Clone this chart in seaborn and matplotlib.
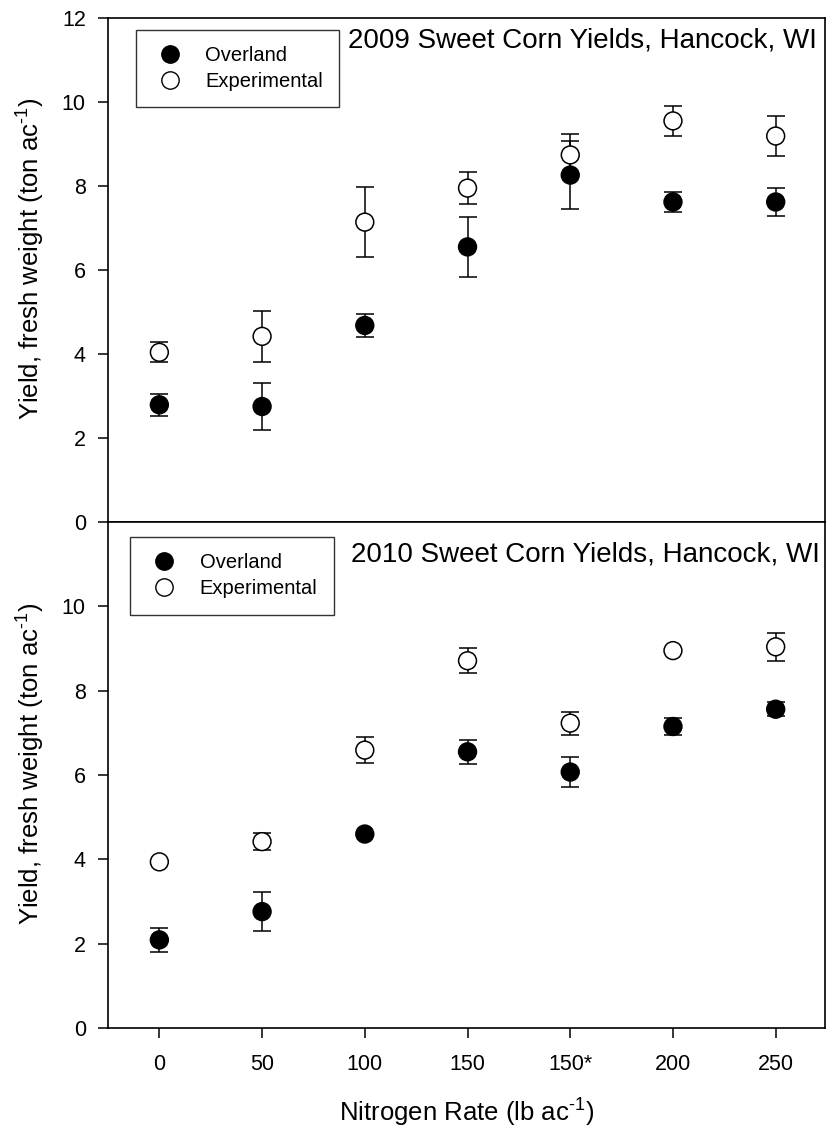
import matplotlib
matplotlib.use('Agg')
import matplotlib.pyplot as plt
import seaborn as sns
import numpy as np
import pandas as pd
from matplotlib.lines import Line2D

sns.set_style('ticks')
plt.rcParams['font.family'] = ['Liberation Sans', 'DejaVu Sans']
plt.rcParams['mathtext.fontset'] = 'custom'
plt.rcParams['mathtext.rm'] = 'Liberation Sans'
plt.rcParams['text.color'] = 'black'
plt.rcParams['axes.labelcolor'] = 'black'
plt.rcParams['xtick.color'] = 'black'
plt.rcParams['ytick.color'] = 'black'

# nitrogen rates (categories on x)
rates = ['0', '50', '100', '150', '150*', '200', '250']

# 2009 yields (ton/ac) and error bars
over_2009 = [2.79, 2.75, 4.68, 6.55, 8.26, 7.62, 7.62]
over_2009_err = [0.26, 0.55, 0.28, 0.72, 0.80, 0.24, 0.34]
exp_2009 = [4.04, 4.42, 7.14, 7.95, 8.74, 9.55, 9.19]
exp_2009_err = [0.24, 0.60, 0.83, 0.38, 0.50, 0.36, 0.47]

# 2010 yields (ton/ac) and error bars
over_2010 = [2.09, 2.76, 4.60, 6.55, 6.07, 7.15, 7.56]
over_2010_err = [0.28, 0.47, 0.05, 0.28, 0.35, 0.21, 0.16]
exp_2010 = [3.94, 4.42, 6.59, 8.71, 7.23, 8.95, 9.04]
exp_2010_err = [0.05, 0.21, 0.30, 0.30, 0.27, 0.05, 0.33]

titles = ['2009 Sweet Corn Yields, Hancock, WI', '2010 Sweet Corn Yields, Hancock, WI']
ylab = 'Yield, fresh weight (ton ac$^{\\text{-}1}$)'
xlab = 'Nitrogen Rate (lb ac$^{\\text{-}1}$)'

xpos = np.arange(len(rates))

def make_df(over, over_err, exp, exp_err):
    return pd.DataFrame({
        'x': np.concatenate([xpos, xpos]),
        'y': over + exp,
        'err': over_err + exp_err,
        'trt': ['Overland'] * len(rates) + ['Experimental'] * len(rates),
    })

dfs = [make_df(over_2009, over_2009_err, exp_2009, exp_2009_err),
       make_df(over_2010, over_2010_err, exp_2010, exp_2010_err)]

fig = plt.figure(figsize=(8.27, 11.28), dpi=100)
L, R = 108 / 827, 825 / 827
ax1 = fig.add_axes([L, 1 - 522 / 1128, R - L, (522 - 18) / 1128])
ax2 = fig.add_axes([L, 1 - 1028 / 1128, R - L, (1028 - 522) / 1128])

pal = {'Overland': 'black', 'Experimental': 'white'}
leg_pos = [(0.039, 0.977), (0.031, 0.971)]
txt_pos = [(0.335, 0.981), (0.339, 0.961)]

for i, (ax, df) in enumerate(zip([ax1, ax2], dfs)):
    ax.errorbar(df['x'], df['y'], yerr=df['err'], fmt='none', ecolor='black',
                elinewidth=1.1, capsize=6.5, capthick=1.1, zorder=2)
    sns.scatterplot(data=df, x='x', y='y', hue='trt', palette=pal, s=165,
                    edgecolor='black', linewidth=1.1, legend=False, ax=ax, zorder=3)
    ax.set_xlim(-0.5, 6.48)
    ax.set_ylim(0, 12)
    ax.set_ylabel(ylab, fontsize=18.5)
    ax.yaxis.set_label_coords(-0.087, 0.523)
    for sp in ax.spines.values():
        sp.set_visible(True)
        sp.set_linewidth(1.2)
        sp.set_color('black')
    ax.tick_params(axis='y', direction='out', length=7, width=1.1, labelsize=15.5, pad=9)
    ax.text(txt_pos[i][0], txt_pos[i][1], titles[i], transform=ax.transAxes,
            ha='left', va='top', fontsize=20)
    handles = [Line2D([], [], ls='none', marker='o', markersize=12.5, mfc='black', mec='black'),
               Line2D([], [], ls='none', marker='o', markersize=12.5, mfc='white', mec='black')]
    leg = ax.legend(handles, ['Overland', 'Experimental'], loc='upper left',
                    bbox_to_anchor=leg_pos[i], fontsize=14.5, frameon=True, fancybox=False,
                    borderpad=0.8, labelspacing=0.38, handlelength=1.75, handletextpad=0.9,
                    borderaxespad=0)
    leg.get_frame().set_edgecolor('black')
    leg.get_frame().set_linewidth(1.0)

ax1.set_yticks(np.arange(0, 13, 2))
ax1.set_xticks([])
ax1.set_xlabel('')
ax2.set_yticks(np.arange(0, 11, 2))
ax2.set_xticks(xpos)
ax2.set_xticklabels(rates)
ax2.tick_params(axis='x', direction='out', length=7, width=1.1, labelsize=15.5, pad=12)
ax2.set_xlabel(xlab, fontsize=18.5, labelpad=14)

fig.savefig('out.png', dpi=100)
